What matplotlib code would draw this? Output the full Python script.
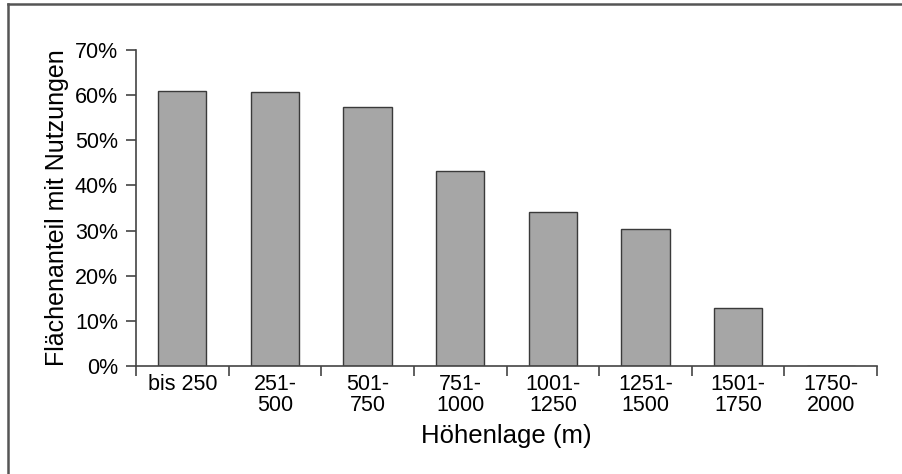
import matplotlib
matplotlib.use('Agg')
from matplotlib import pyplot as plt
from matplotlib.lines import Line2D
import numpy as np

plt.rcParams['font.family'] = ['Liberation Sans', 'DejaVu Sans']

# Data
categories = ['bis 250', '251-\n500', '501-\n750', '751-\n1000', '1001-\n1250',
              '1251-\n1500', '1501-\n1750', '1750-\n2000']
shares = [61.0, 60.7, 57.3, 43.2, 34.1, 30.3, 12.8, 0.0]
yticks = [0, 10, 20, 30, 40, 50, 60, 70]

fig = plt.figure(figsize=(9.02, 4.74), dpi=100)
axe = fig.add_axes([0.1508, 0.2278, 0.8215, 0.6667])

x = np.arange(len(categories))
axe.bar(x, shares, width=0.52, color='#a6a6a6', edgecolor='#3a3a3a', linewidth=1.0)

axe.set_xlim(-0.5, len(categories) - 0.5)
axe.set_ylim(0, 70)
axe.set_yticks(yticks)
axe.set_yticklabels(['%d%%' % v for v in yticks], fontsize=15.5)

# category boundaries as ticks, labels centred
axe.set_xticks(np.arange(-0.5, len(categories)), labels=[])
axe.set_xticks(x, labels=categories, minor=True)
axe.tick_params(axis='x', which='minor', length=0, labelsize=15.5, pad=6)
axe.tick_params(axis='x', which='major', length=7, width=1.2, color='#444444')
axe.tick_params(axis='y', length=7, width=1.2, color='#444444', pad=6)
for lbl in axe.get_xticklabels(minor=True):
    lbl.set_linespacing(0.95)

for side in ['top', 'right']:
    axe.spines[side].set_visible(False)
for side in ['left', 'bottom']:
    axe.spines[side].set_color('#444444')
    axe.spines[side].set_linewidth(1.2)

axe.set_xlabel('Höhenlage (m)', fontsize=18.5, labelpad=6)
axe.set_ylabel('Flächenanteil mit Nutzungen', fontsize=18, labelpad=4)

# outer frame (top and left edges only)
fig.add_artist(Line2D([8 / 902, 1], [1 - 4 / 474, 1 - 4 / 474],
                      transform=fig.transFigure, color='#555555', lw=1.8))
fig.add_artist(Line2D([8 / 902, 8 / 902], [0, 1 - 4 / 474],
                      transform=fig.transFigure, color='#555555', lw=1.8))

fig.savefig('out.png', dpi=100)
